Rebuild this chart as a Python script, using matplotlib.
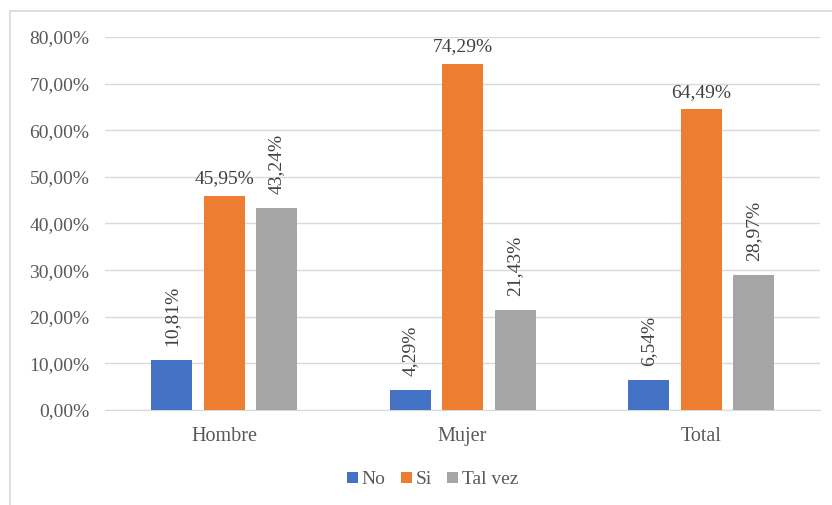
import numpy as np
import matplotlib
matplotlib.use("Agg")
import matplotlib.pyplot as plt
from matplotlib.patches import Rectangle
from matplotlib.ticker import FuncFormatter

categorias = ["Hombre", "Mujer", "Total"]
series = ["No", "Si", "Tal vez"]
no = [10.81, 4.29, 6.54]
si = [45.95, 74.29, 64.49]
tal_vez = [43.24, 21.43, 28.97]
colores = ["#4472C4", "#ED7D31", "#A5A5A5"]
rotar = [True, False, True]

plt.rcParams["font.family"] = ["Liberation Serif", "DejaVu Serif"]

fig = plt.figure(figsize=(8.32, 5.05), dpi=100)
ax = fig.add_axes([0.126, 0.188, 0.86, 0.739])

x = np.arange(len(categorias))
ancho = 0.172
paso = 0.22

for i, (nombre, valores) in enumerate(zip(series, [no, si, tal_vez])):
    pos = x + (i - 1) * paso
    ax.bar(pos, valores, width=ancho, color=colores[i], label=nombre, zorder=3)
    for p, v in zip(pos, valores):
        txt = f"{v:.2f}%".replace(".", ",")
        if rotar[i]:
            ax.annotate(txt, (p, v), xytext=(0, 10), textcoords="offset points",
                        rotation=90, ha="center", va="bottom",
                        fontsize=14, color="#404040")
        else:
            ax.annotate(txt, (p, v), xytext=(0, 6), textcoords="offset points",
                        ha="center", va="bottom", fontsize=14, color="#404040")

ax.set_ylim(0, 80)
ax.set_xlim(-0.5, 2.5)
ax.set_yticks(np.arange(0, 81, 10))
ax.yaxis.set_major_formatter(FuncFormatter(lambda v, _: f"{v:.2f}%".replace(".", ",")))
ax.set_xticks(x)
ax.set_xticklabels(categorias)
ax.tick_params(axis="y", length=0, pad=11, labelsize=14, labelcolor="#595959")
ax.tick_params(axis="x", length=0, pad=12, labelsize=14.5, labelcolor="#595959")
ax.grid(axis="y", color="#D9D9D9", linewidth=1, zorder=0)
for s in ["top", "right", "left"]:
    ax.spines[s].set_visible(False)
ax.spines["bottom"].set_color("#D9D9D9")

fig.legend(loc="center", bbox_to_anchor=(0.52, 0.05), ncol=3, frameon=False,
           fontsize=14, handlelength=0.55, handleheight=0.55, handletextpad=0.2,
           columnspacing=0.8, labelcolor="#595959")

# marco del gráfico
fig.patches.append(Rectangle((10 / 832, -0.1), 1.2, 1 - 11 / 505 + 0.1,
                             transform=fig.transFigure, fill=False,
                             edgecolor="#D9D9D9", linewidth=1.2))

fig.savefig("out.png", dpi=100)
